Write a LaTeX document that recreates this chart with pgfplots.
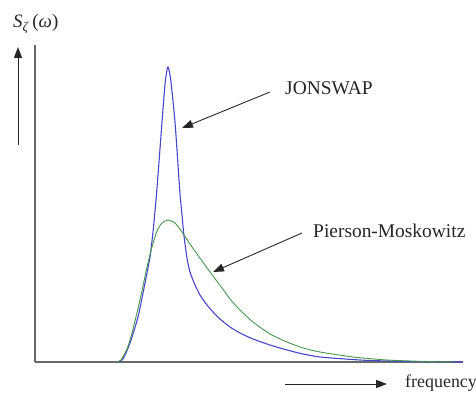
\documentclass[border=0pt]{standalone}
\usepackage{fontspec}
\setmainfont{Liberation Serif}
\usepackage{pgfplots}
\pgfplotsset{compat=1.18}
\usetikzlibrary{arrows.meta}
\definecolor{jblue}{RGB}{70,70,205}
\definecolor{pmgreen}{RGB}{70,150,75}
\definecolor{axgray}{RGB}{105,105,105}
\begin{document}
\begin{tikzpicture}
\begin{axis}[
  scale only axis,
  width=428bp, height=317bp,
  xmin=35, xmax=463, ymin=0, ymax=317,
  axis lines=left,
  axis line style={-, draw=axgray, line width=2pt},
  xtick=\empty, ytick=\empty,
  clip=false,
]
\addplot[jblue, line width=1.1pt, smooth, tension=0.4] coordinates {
(117,0) (123,3) (130,19) (138,45) (145,79) (150,105) (153,130) (156,162)
(159,200) (162,240) (165,278) (167,292) (168,295) (169,292) (171,280)
(175,240) (178,197) (180,168) (182,147) (184,126) (187,104) (190,90)
(195,77) (200,67) (207,57) (213,50) (220,43) (230,35) (240,29) (253,23)
(270,17) (287,12) (303,8) (320,5) (345,3) (370,1.5) (420,0.3) (463,0)
};
\addplot[pmgreen, line width=0.9pt, smooth, tension=0.4] coordinates {
(117,0) (121,2) (127,13) (132,29) (140,62) (147,95) (152,115) (157,131)
(162,139) (168,142) (175,139) (182,130) (190,118) (197,108) (205,97)
(213,86) (222,74) (230,63) (240,52) (253,40) (270,28) (287,20) (303,14)
(320,10) (353,5) (387,2) (420,0.7) (453,0)
};
\draw[-{Triangle[length=11pt,width=8pt]}, line width=0.9pt, black!85]
  (axis cs:270,270) -- (axis cs:182,234);
\draw[-{Triangle[length=11pt,width=8pt]}, line width=0.9pt, black!85]
  (axis cs:302,129) -- (axis cs:213,90);
\draw[-{Triangle[length=11pt,width=8pt]}, line width=1pt, black!85]
  (axis cs:18,217) -- (axis cs:18,315);
\draw[-{Triangle[length=11pt,width=8pt]}, line width=1pt, black!85]
  (axis cs:285,-22) -- (axis cs:387,-22);
\node[anchor=base west, inner sep=0pt, font=\fontsize{19.5}{22}\selectfont, black!85]
  at (axis cs:285,267) {JONSWAP};
\node[anchor=base west, inner sep=0pt, font=\fontsize{19.5}{22}\selectfont, black!85]
  at (axis cs:313,124) {Pierson-Moskowitz};
\node[anchor=base west, inner sep=0pt, font=\fontsize{18}{22}\selectfont, black!85]
  at (axis cs:405,-25) {frequency};
\node[anchor=base west, inner sep=0pt, font=\fontsize{19}{22}\selectfont, black!85]
  at (axis cs:13,334) {\textit{S}\textsubscript{\textit{ζ}}\,(\textit{ω})};
\coordinate (bbl) at (axis cs:0,-34);
\coordinate (btr) at (axis cs:476,362);
\end{axis}
\pgfresetboundingbox
\path (bbl) rectangle (btr);
\end{tikzpicture}
\end{document}
